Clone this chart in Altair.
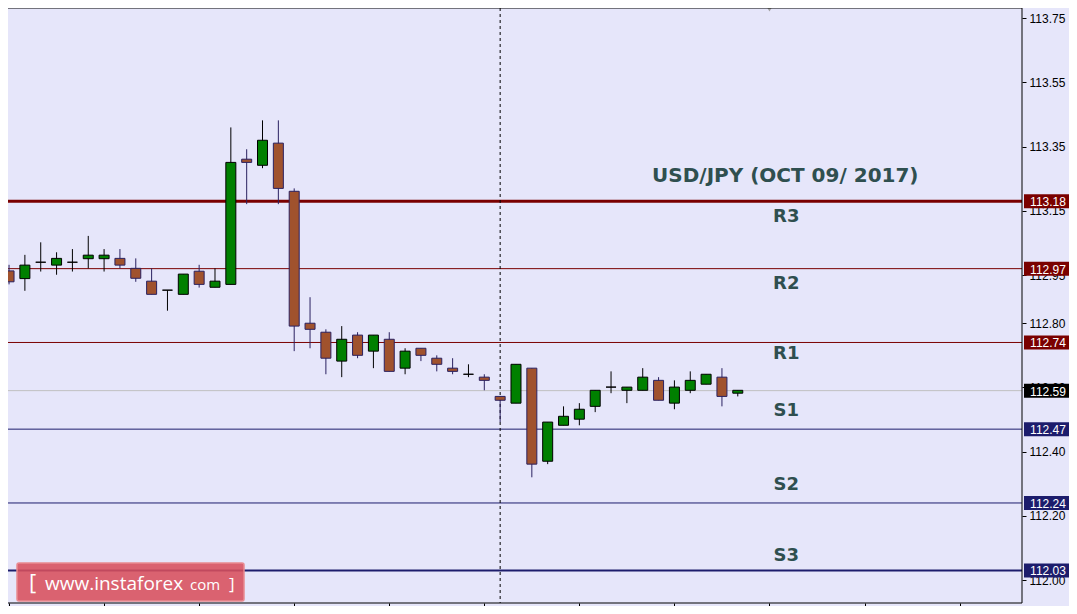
import altair as alt
import pandas as pd

# ---- candle data (index, open, high, low, close) ----
idx = list(range(47))
opens = [112.963, 112.939, 112.990, 112.981, 112.990, 113.001, 113.001, 113.002, 112.971, 112.931,
         112.903, 112.890, 112.962, 112.912, 112.921, 113.311, 113.292, 113.361, 113.211, 112.800,
         112.772, 112.682, 112.763, 112.713, 112.750, 112.660, 112.722, 112.691, 112.660, 112.641,
         112.632, 112.572, 112.551, 112.660, 112.370, 112.482, 112.501, 112.541, 112.601, 112.591,
         112.591, 112.622, 112.551, 112.591, 112.610, 112.632, 112.582]
highs = [112.982, 113.013, 113.052, 113.021, 113.031, 113.072, 113.031, 113.031, 113.002, 112.971,
         112.903, 112.953, 112.982, 112.971, 113.410, 113.342, 113.432, 113.432, 113.220, 112.881,
         112.781, 112.791, 112.772, 112.763, 112.772, 112.722, 112.722, 112.700, 112.691, 112.672,
         112.641, 112.572, 112.672, 112.660, 112.492, 112.541, 112.551, 112.591, 112.650, 112.601,
         112.660, 112.632, 112.622, 112.650, 112.641, 112.660, 112.591]
lows = [112.921, 112.901, 112.961, 112.951, 112.961, 112.971, 112.961, 112.971, 112.929, 112.890,
        112.839, 112.890, 112.911, 112.912, 112.921, 113.171, 113.283, 113.171, 112.713, 112.722,
        112.641, 112.632, 112.691, 112.660, 112.650, 112.641, 112.682, 112.650, 112.641, 112.632,
        112.591, 112.492, 112.551, 112.320, 112.361, 112.482, 112.482, 112.523, 112.582, 112.551,
        112.591, 112.560, 112.532, 112.582, 112.610, 112.541, 112.572]
closes = [112.929, 112.981, 112.990, 113.002, 112.990, 113.012, 113.012, 112.981, 112.940, 112.890,
          112.903, 112.953, 112.921, 112.931, 113.301, 113.301, 113.370, 113.220, 112.791, 112.781,
          112.691, 112.750, 112.700, 112.763, 112.650, 112.713, 112.700, 112.672, 112.650, 112.641,
          112.622, 112.560, 112.672, 112.361, 112.492, 112.510, 112.532, 112.591, 112.601, 112.601,
          112.632, 112.560, 112.601, 112.622, 112.641, 112.572, 112.591]

# ---- pivot levels ----
level_names = ["R3", "R2", "R1", "price", "S1", "S2", "S3"]
level_values = [113.18, 112.97, 112.74, 112.59, 112.47, 112.24, 112.03]
level_text = ["113.18", "112.97", "112.74", "112.59", "112.47", "112.24", "112.03"]

# ---- level captions ----
caption_text = ["USD/JPY (OCT 09/ 2017)", "R3", "R2", "R1", "S1", "S2", "S3"]
caption_x = [49, 49.06, 49.06, 49.06, 49.06, 49.06, 49.06]
caption_y = [113.259, 113.131, 112.922, 112.704, 112.527, 112.296, 112.075]
caption_size = [20, 18, 18, 18, 18, 18, 18]

# ---- axis ticks ----
y_ticks = [112.0, 112.2, 112.4, 112.6, 112.8, 112.95, 113.15, 113.35, 113.55, 113.75]
x_ticks = list(range(0, 64, 6))
separator_x = 31
marker_x = 48

candles = pd.DataFrame({"i": idx, "open": opens, "high": highs, "low": lows, "close": closes})
levels = pd.DataFrame({"name": level_names, "value": level_values, "label": level_text})
captions = pd.DataFrame({"text": caption_text, "x": caption_x, "y": caption_y, "size": caption_size})

W, H = 1014, 595
X_DOM = [0.25, 63.625]
Y_DOM = [111.9284, 113.782]
xs = alt.Scale(domain=X_DOM, nice=False, zero=False)
ys = alt.Scale(domain=Y_DOM, nice=False, zero=False)

FONT = "Liberation Sans"
UPDOWN = ["up", "down", "doji"]

base = alt.Chart(candles).transform_calculate(
    dir="datum.close > datum.open ? 'up' : (datum.close < datum.open ? 'down' : 'doji')"
)

wicks = base.mark_rule(strokeWidth=1).encode(
    x=alt.X("i:Q", scale=xs, axis=alt.Axis(values=x_ticks, labels=False, tickSize=3, domain=False,
                                           grid=False, tickColor="black", orient="bottom", title=None)),
    y=alt.Y("low:Q", scale=ys, axis=alt.Axis(values=y_ticks, format=".2f", orient="right", tickSize=4,
                                             tickColor="black", domain=False, grid=False, title=None,
                                             labelFont=FONT, labelFontSize=12, labelColor="black",
                                             labelPadding=3)),
    y2="high:Q",
    color=alt.Color("dir:N", scale=alt.Scale(domain=UPDOWN,
                                             range=["#000000", "#2a2160", "#000000"]), legend=None),
)

bodies = base.mark_bar(size=10, strokeWidth=1).encode(
    x=alt.X("i:Q", scale=xs),
    y=alt.Y("open:Q", scale=ys),
    y2="close:Q",
    fill=alt.Fill("dir:N", scale=alt.Scale(domain=UPDOWN,
                                           range=["#008000", "#a0522d", "#000000"]), legend=None),
    stroke=alt.Stroke("dir:N", scale=alt.Scale(domain=UPDOWN,
                                               range=["#000000", "#2a2160", "#000000"]), legend=None),
)

lvl_color = alt.Scale(domain=level_names,
                      range=["#7a0000", "#7a0000", "#7a0000", "#c0c0c0", "#1c1c6c", "#1c1c6c", "#1c1c6c"])
box_color = alt.Scale(domain=level_names,
                      range=["#7a0000", "#7a0000", "#7a0000", "#000000", "#1c1c6c", "#1c1c6c", "#1c1c6c"])


def level_rule(names, width):
    return alt.Chart(levels).transform_filter(
        alt.FieldOneOfPredicate(field="name", oneOf=names)
    ).mark_rule(strokeWidth=width).encode(
        y=alt.Y("value:Q", scale=ys),
        color=alt.Color("name:N", scale=lvl_color, legend=None),
    )


rules_thin = level_rule(["R2", "R1", "price", "S1", "S2"], 1)
rules_r3 = level_rule(["R3"], 3)
rules_s3 = level_rule(["S3"], 2)

level_boxes = alt.Chart(levels).transform_calculate(
    top="datum.value + 0.0218", bot="datum.value - 0.0218"
).mark_rect(clip=False).encode(
    x=alt.value(1016), x2=alt.value(1063),
    y=alt.Y("top:Q", scale=ys), y2="bot:Q",
    fill=alt.Fill("name:N", scale=box_color, legend=None),
)

level_labels = alt.Chart(levels).mark_text(clip=False, font=FONT, fontSize=12, color="white",
                                           align="center", baseline="middle", dy=1).encode(
    x=alt.value(1040),
    y=alt.Y("value:Q", scale=ys),
    text="label:N",
)

caption_marks = alt.Chart(captions).mark_text(font="DejaVu Sans", fontWeight="bold", color="#2f4f4f",
                                              align="center", baseline="middle").encode(
    x=alt.X("x:Q", scale=xs),
    y=alt.Y("y:Q", scale=ys),
    text="text:N",
    size=alt.Size("size:Q", scale=None, legend=None),
)

sep = alt.Chart(pd.DataFrame({"x": [separator_x]})).mark_rule(
    strokeDash=[3, 3], color="black", strokeWidth=1).encode(x=alt.X("x:Q", scale=xs))

marker = alt.Chart(pd.DataFrame({"x": [marker_x]})).mark_point(
    shape="triangle-down", filled=True, color="#a0a0a0", size=70, opacity=1, clip=True).encode(
    x=alt.X("x:Q", scale=xs), y=alt.value(0))

one = pd.DataFrame({"k": [0]})
frame = alt.Chart(one).mark_rule(color="black", strokeWidth=1, clip=False).encode(
    x=alt.value(W), y=alt.value(0), y2=alt.value(H))
frame_top = alt.Chart(one).mark_rule(color="black", strokeWidth=1, clip=False).encode(
    x=alt.value(0), x2=alt.value(W), y=alt.value(0))
frame_bot = alt.Chart(one).mark_rule(color="black", strokeWidth=1, clip=False).encode(
    x=alt.value(0), x2=alt.value(W), y=alt.value(H))

# watermark logo
logo_box = alt.Chart(one).mark_rect(
    fill="#d8505c", fillOpacity=0.88, stroke="#e98a90", strokeWidth=1.5, cornerRadius=2).encode(
    x=alt.value(9), x2=alt.value(236), y=alt.value(555), y2=alt.value(593))
logo_parts = pd.DataFrame({
    "t": ["[", "www.instaforex", "com", "]"],
    "px": [21, 37, 182, 221],
    "fs": [22, 19, 15, 17],
})
logo_text = alt.Chart(logo_parts).mark_text(font="Open Sans", color="white", align="left",
                                            baseline="alphabetic").encode(
    x=alt.X("px:Q", scale=None), y=alt.value(582), text="t:N",
    size=alt.Size("fs:Q", scale=None, legend=None),
)

chart = alt.layer(
    rules_thin, rules_r3, rules_s3, sep, wicks, bodies, caption_marks, marker, frame, frame_top, frame_bot,
    level_boxes, level_labels, logo_box, logo_text,
).resolve_scale(color="independent", fill="independent", stroke="independent", size="independent").properties(
    width=W, height=H,
    autosize=alt.AutoSizeParams(type="none"),
    padding={"left": 0, "top": 0, "right": 47, "bottom": 3},
    background="#e6e6fa",
).configure_view(stroke=None, fill="#e6e6fa")

chart.save("out.html", embed_options={"renderer": "svg", "actions": False})
